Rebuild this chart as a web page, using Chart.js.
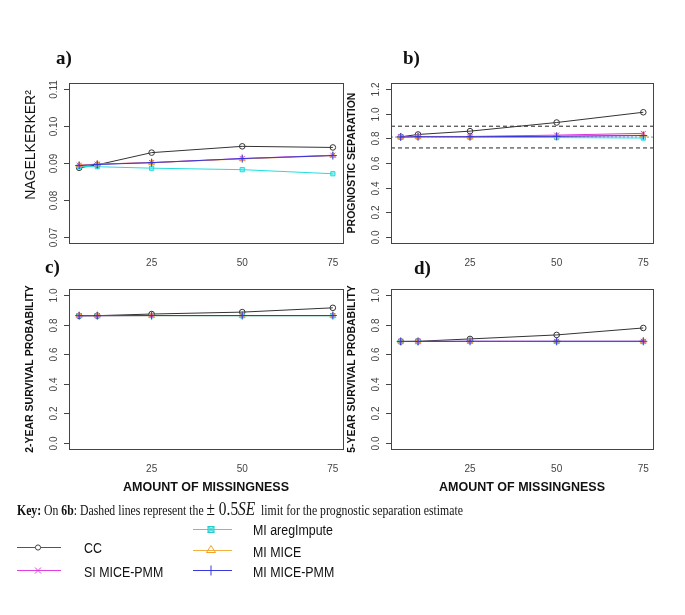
<!DOCTYPE html>
<html>
<head>
<meta charset="utf-8">
<script src="https://cdn.jsdelivr.net/npm/chart.js@4"></script>
<style>
  body { margin: 0; background: #fff; }
  #page { position: relative; width: 685px; height: 615px; overflow: hidden; }
  canvas { position: absolute; left: 0; top: 0; }
  .lbl { position: absolute; font: bold 19px "Liberation Serif", "Times New Roman", serif; color: #111; line-height: 1; }
  .xt { position: absolute; width: 260px; text-align: center; font: bold 12.5px "Liberation Sans", Arial, sans-serif; color: #111; line-height: 1; }
  .key { position: absolute; left: 17px; top: 498px; font: 14.5px "Liberation Serif", "Times New Roman", serif; color: #111; white-space: nowrap;
         transform: scaleX(0.81); transform-origin: left center; }
  .key .m { font-size: 19px; }
  .lg { position: absolute; font: 15.5px "Liberation Sans", Arial, sans-serif; color: #111; line-height: 1; transform: scaleX(0.8); transform-origin: left center; white-space: nowrap; }
</style>
</head>
<body>
<div id="page">
  <canvas id="pa" width="685" height="615"></canvas>
  <canvas id="pb" width="685" height="615"></canvas>
  <canvas id="pc" width="685" height="615"></canvas>
  <canvas id="pd" width="685" height="615"></canvas>

  <div class="lbl" style="left:56px; top:48px;">a)</div>
  <div class="lbl" style="left:403px; top:48px;">b)</div>
  <div class="lbl" style="left:45px; top:257px;">c)</div>
  <div class="lbl" style="left:414px; top:258px;">d)</div>

  <div class="xt" style="left:76px; top:481px;">AMOUNT OF MISSINGNESS</div>
  <div class="xt" style="left:392px; top:481px;">AMOUNT OF MISSINGNESS</div>

  <div class="key"><b>Key:</b> On <b>6b</b>: Dashed lines represent the <span class="m">± 0.5<i>SE</i></span>&nbsp; limit for the prognostic separation estimate</div>

  <svg width="685" height="615" style="position:absolute;left:0;top:0;">
    <line x1="193" y1="529.5" x2="232" y2="529.5" stroke="#33dddd" stroke-width="1.2"/>
    <rect x="208" y="526.5" width="6" height="6" fill="rgba(60,225,225,0.5)" stroke="#22cccc"/>
    <path d="M208 526.5 L214 532.5 M214 526.5 L208 532.5" stroke="#22cccc"/>
    <line x1="17" y1="547.5" x2="61" y2="547.5" stroke="#555" stroke-width="1.2"/>
    <circle cx="38" cy="547.5" r="2.6" fill="#fff" stroke="#444"/>
    <line x1="193" y1="550.5" x2="232" y2="550.5" stroke="#f2b040" stroke-width="1.2"/>
    <path d="M211 545.5 L215.5 552.5 L206.5 552.5 Z" fill="none" stroke="#f0a030"/>
    <line x1="17" y1="570.5" x2="61" y2="570.5" stroke="#e040e0" stroke-width="1.2"/>
    <path d="M35 567.5 L41 573.5 M41 567.5 L35 573.5" stroke="#e040e0"/>
    <line x1="193" y1="570.5" x2="232" y2="570.5" stroke="#3838dd" stroke-width="1.2"/>
    <path d="M211 565.5 L211 575.5" stroke="#3838dd"/>
  </svg>
  <div class="lg" style="left:84px; top:540px;">CC</div>
  <div class="lg" style="left:253px; top:522px;">MI aregImpute</div>
  <div class="lg" style="left:253px; top:544px;">MI MICE</div>
  <div class="lg" style="left:84px; top:564px;">SI MICE-PMM</div>
  <div class="lg" style="left:253px; top:564px;">MI MICE-PMM</div>
</div>

<script>
// x: amount of missingness (%)
const missingness = [5, 10, 25, 50, 75];
const xTicks = [25, 50, 75];
const X_MIN = 2.2, X_MAX = 77.8;

const methods = ['CC', 'SI MICE-PMM', 'MI aregImpute', 'MI MICE', 'MI MICE-PMM'];

// a) Nagelkerke R2
const ccR2   = [0.0887, 0.0895, 0.0928, 0.0945, 0.0942];
const siR2   = [0.0894, 0.0897, 0.0901, 0.0912, 0.0921];
const aregR2 = [0.0891, 0.0890, 0.0886, 0.0882, 0.0871];
const miceR2 = [0.0894, 0.0897, 0.0901, 0.0911, 0.0920];
const pmmR2  = [0.0893, 0.0896, 0.0901, 0.0912, 0.0920];
const yTicksR2  = [0.07, 0.08, 0.09, 0.10, 0.11];
const yLabelsR2 = ['0.07', '0.08', '0.09', '0.10', '0.11'];

// b) prognostic separation
const ccPS   = [0.812, 0.831, 0.858, 0.928, 1.011];
const siPS   = [0.812, 0.815, 0.815, 0.826, 0.840];
const aregPS = [0.810, 0.810, 0.808, 0.806, 0.802];
const micePS = [0.811, 0.813, 0.813, 0.818, 0.825];
const pmmPS  = [0.811, 0.813, 0.813, 0.816, 0.822];
const psEstimate = 0.810;
const seLimits = [0.722, 0.898];
const yTicksPS  = [0, 0.2, 0.4, 0.6, 0.8, 1.0, 1.2];
const yLabelsPS = ['0.0', '0.2', '0.4', '0.6', '0.8', '1.0', '1.2'];

// c) 2-year survival probability
const cc2y   = [0.859, 0.860, 0.871, 0.884, 0.913];
const si2y   = [0.860, 0.860, 0.861, 0.861, 0.861];
const areg2y = [0.860, 0.860, 0.860, 0.859, 0.859];
const mice2y = [0.860, 0.860, 0.860, 0.860, 0.860];
const pmm2y  = [0.860, 0.860, 0.861, 0.861, 0.861];

// d) 5-year survival probability
const cc5y   = [0.686, 0.687, 0.703, 0.730, 0.777];
const si5y   = [0.686, 0.686, 0.687, 0.687, 0.687];
const areg5y = [0.686, 0.686, 0.686, 0.685, 0.685];
const mice5y = [0.686, 0.686, 0.686, 0.686, 0.686];
const pmm5y  = [0.686, 0.686, 0.687, 0.687, 0.687];
const yTicksSurv  = [0, 0.2, 0.4, 0.6, 0.8, 1.0];
const yLabelsSurv = ['0.0', '0.2', '0.4', '0.6', '0.8', '1.0'];

const styles = [
  { borderColor: '#333', pointStyle: 'circle', pointRadius: 2.8, pointBackgroundColor: 'rgba(0,0,0,0)', order: 5 },
  { borderColor: '#e030e0', pointStyle: 'crossRot', pointRadius: 3.5, pointBackgroundColor: '#e030e0', order: 3 },
  { borderColor: '#20dede', pointStyle: 'rect', pointRadius: 3, pointBackgroundColor: 'rgba(60,225,225,0.55)', order: 4 },
  { borderColor: '#f5a030', pointStyle: 'triangle', pointRadius: 3.5, pointBackgroundColor: 'rgba(0,0,0,0)', order: 2 },
  { borderColor: '#3535e0', pointStyle: 'cross', pointRadius: 4, pointBackgroundColor: '#3535e0', order: 1 }
];

function pts(vals) {
  return missingness.map((m, i) => ({ x: m, y: vals[i] }));
}

function seriesSets(list) {
  return list.map((vals, i) => Object.assign({
    label: methods[i],
    data: pts(vals),
    borderWidth: 1,
    pointBorderWidth: 1,
    pointBorderColor: styles[i].borderColor,
    tension: 0,
    fill: false
  }, styles[i]));
}

function hline(v, color, dash) {
  return {
    label: 'ref',
    data: [{ x: X_MIN, y: v }, { x: X_MAX, y: v }],
    borderColor: color, borderWidth: 1, borderDash: dash,
    pointRadius: 0, order: 10
  };
}

function rotText(ctx, text, x, y) {
  ctx.save();
  ctx.translate(x, y);
  ctx.rotate(-Math.PI / 2);
  ctx.textAlign = 'center';
  ctx.textBaseline = 'middle';
  ctx.fillText(text, 0, 0);
  ctx.restore();
}

// R-style box, rotated y tick labels, x tick labels and y title
function rAxes(cfg) {
  return {
    id: 'rAxes',
    afterDraw(chart) {
      const { ctx, chartArea: a, scales: { x, y } } = chart;
      ctx.save();
      ctx.strokeStyle = '#444';
      ctx.lineWidth = 1;
      ctx.strokeRect(a.left + 0.5, a.top + 0.5, a.right - a.left, a.bottom - a.top);
      ctx.fillStyle = '#444';
      ctx.font = '10px "Liberation Sans", Arial, sans-serif';
      cfg.yTicks.forEach((v, i) => {
        const py = Math.round(y.getPixelForValue(v)) + 0.5;
        ctx.beginPath();
        ctx.moveTo(a.left - 5, py);
        ctx.lineTo(a.left, py);
        ctx.stroke();
        rotText(ctx, cfg.yLabels[i], a.left - 15, py);
      });
      ctx.textAlign = 'center';
      ctx.textBaseline = 'middle';
      xTicks.forEach(v => ctx.fillText(String(v), x.getPixelForValue(v), a.bottom + 20));
      ctx.fillStyle = '#111';
      ctx.font = cfg.titleFont;
      rotText(ctx, cfg.title, cfg.titleX, (a.top + a.bottom) / 2 + (cfg.titleShift || 0));
      ctx.restore();
    }
  };
}

function panel(id, area, datasets, yMin, yMax, cfg) {
  new Chart(document.getElementById(id), {
    type: 'line',
    data: { datasets },
    options: {
      responsive: false,
      animation: false,
      layout: { padding: { left: area[0], top: area[2], right: 685 - area[1], bottom: 615 - area[3] } },
      plugins: { legend: { display: false }, tooltip: { enabled: false } },
      scales: {
        x: { type: 'linear', min: X_MIN, max: X_MAX, display: false },
        y: { type: 'linear', min: yMin, max: yMax, display: false }
      }
    },
    plugins: [rAxes(cfg)]
  });
}

const boldTitle = 'bold 10.5px "Liberation Sans", Arial, sans-serif';

panel('pa', [69, 343, 83, 243],
  seriesSets([ccR2, siR2, aregR2, miceR2, pmmR2]),
  0.0684, 0.1116,
  { yTicks: yTicksR2, yLabels: yLabelsR2, title: 'NAGELKERKER\u00B2', titleX: 31, titleShift: -18,
    titleFont: '14px "Liberation Sans", Arial, sans-serif' });

panel('pb', [391, 653, 83, 243],
  seriesSets([ccPS, siPS, aregPS, micePS, pmmPS]).concat([
    hline(seLimits[0], '#222', [4, 3]),
    hline(seLimits[1], '#222', [4, 3]),
    hline(psEstimate, '#7a9a9a', [2, 2])
  ]),
  -0.048, 1.248,
  { yTicks: yTicksPS, yLabels: yLabelsPS, title: 'PROGNOSTIC SEPARATION', titleX: 352, titleFont: boldTitle });

panel('pc', [69, 343, 289, 449],
  seriesSets([cc2y, si2y, areg2y, mice2y, pmm2y]),
  -0.04, 1.04,
  { yTicks: yTicksSurv, yLabels: yLabelsSurv, title: '2-YEAR SURVIVAL PROBABILITY', titleX: 30, titleFont: boldTitle });

panel('pd', [391, 653, 289, 449],
  seriesSets([cc5y, si5y, areg5y, mice5y, pmm5y]),
  -0.04, 1.04,
  { yTicks: yTicksSurv, yLabels: yLabelsSurv, title: '5-YEAR SURVIVAL PROBABILITY', titleX: 352, titleFont: boldTitle });
</script>
</body>
</html>
